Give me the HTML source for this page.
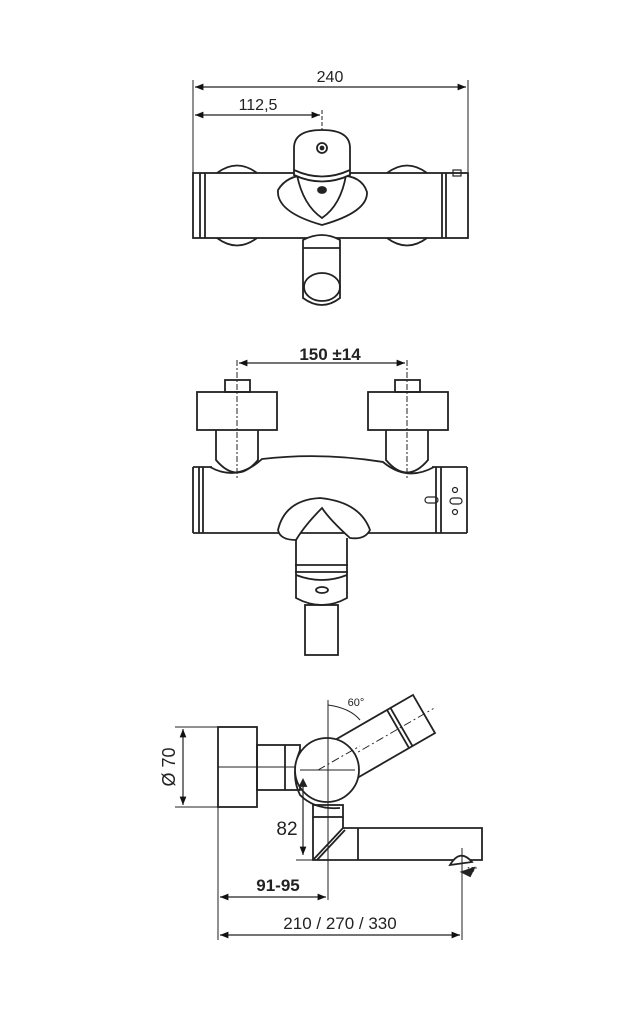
<!DOCTYPE html>
<html><head><meta charset="utf-8"><style>
html,body{margin:0;padding:0;background:#fff;}
svg{display:block;}
text{font-family:"Liberation Sans",sans-serif;fill:#222;}
</style></head><body>
<svg width="641" height="1024" viewBox="0 0 641 1024" xmlns="http://www.w3.org/2000/svg">
<defs>
<marker id="a" viewBox="0 0 10 10" refX="10" refY="5" markerWidth="9" markerHeight="7" orient="auto-start-reverse"><path d="M0,1 L10,5 L0,9 z" fill="#111"/></marker>
</defs>
<g stroke="#222" stroke-width="1.8" fill="none">
<!-- TOP VIEW -->
<line x1="193" y1="80" x2="193" y2="238" stroke-width="1"/>
<line x1="468" y1="80" x2="468" y2="172" stroke-width="1"/>
<line x1="195" y1="87" x2="466" y2="87" stroke-width="1.2" marker-start="url(#a)" marker-end="url(#a)"/>
<line x1="195" y1="115" x2="320" y2="115" stroke-width="1.2" marker-start="url(#a)" marker-end="url(#a)"/>
<line x1="322" y1="110" x2="322" y2="150" stroke-width="1" stroke-dasharray="4,2"/>
<path d="M217,173 Q237,158 257,173"/><path d="M387,173 Q407,158 427,173"/>
<path d="M217,238 Q237,253 257,238"/><path d="M387,238 Q407,253 427,238"/>
<rect x="193" y="173" width="275" height="65"/>
<line x1="200" y1="173" x2="200" y2="238"/><line x1="205" y1="173" x2="205" y2="238"/>
<line x1="442" y1="173" x2="442" y2="238"/><line x1="446" y1="173" x2="446" y2="238"/>
<rect x="453" y="170" width="8" height="6" stroke-width="1.2"/>
<path d="M278,190 Q290,170 322,177 Q360,170 367,192 Q368,212 322,225 Q276,212 278,190 z" fill="#fff"/>
<path d="M297,175 Q303,205 322,218 Q341,205 346,175"/>
<path d="M294,148 Q294,130 322,130 Q350,130 350,148 L350,175 Q322,188 294,175 z" fill="#fff"/>
<path d="M294,170 Q322,183 350,170"/>
<circle cx="322" cy="148" r="5"/><circle cx="322" cy="148" r="1.5" fill="#222"/>
<ellipse cx="322" cy="190" rx="4" ry="3" fill="#222"/>
<path d="M303,240 Q322,230 340,240 L340,298 Q322,312 303,298 z" fill="#fff"/>
<ellipse cx="322" cy="287" rx="18" ry="14"/>
<line x1="303" y1="248" x2="340" y2="248"/>
<!-- MIDDLE VIEW -->
<line x1="239" y1="363" x2="405" y2="363" stroke-width="1.2" marker-start="url(#a)" marker-end="url(#a)"/>
<line x1="237" y1="360" x2="237" y2="480" stroke-width="1" stroke-dasharray="6,2,2,2"/>
<line x1="407" y1="360" x2="407" y2="480" stroke-width="1" stroke-dasharray="6,2,2,2"/>
<rect x="225" y="380" width="25" height="12"/><rect x="395" y="380" width="25" height="12"/>
<rect x="197" y="392" width="80" height="38"/><rect x="368" y="392" width="80" height="38"/>
<path d="M216,430 L216,460 Q237,485 258,460 L258,430"/>
<path d="M386,430 L386,460 Q407,485 428,460 L428,430"/>
<path d="M210,467 Q237,482 262,459 Q322,452 383,462 Q407,482 434,467"/>
<line x1="193" y1="467" x2="212" y2="467"/>
<line x1="432" y1="467" x2="467" y2="467"/>
<line x1="467" y1="467" x2="467" y2="533"/>
<line x1="193" y1="533" x2="467" y2="533"/>
<line x1="193" y1="467" x2="193" y2="533"/>
<line x1="199" y1="467" x2="199" y2="533"/><line x1="203" y1="467" x2="203" y2="533"/>
<line x1="436" y1="467" x2="436" y2="533"/><line x1="441" y1="467" x2="441" y2="533"/>
<rect x="425" y="497" width="13" height="6" rx="3" stroke-width="1.2"/>
<circle cx="455" cy="490" r="2.5" stroke-width="1.2"/><circle cx="455" cy="512" r="2.5" stroke-width="1.2"/>
<rect x="450" y="498" width="12" height="6" rx="3" stroke-width="1.2"/>
<path d="M278,530 Q285,500 320,498 Q360,502 370,530 Q365,540 350,538 Q330,520 322,508 Q305,525 296,540 Q280,540 278,530 z" fill="#fff"/>
<path d="M296,540 L296,598 Q322,612 347,598 L347,538"/>
<line x1="295" y1="565" x2="348" y2="565"/><line x1="295" y1="572" x2="348" y2="572"/>
<path d="M296,575 Q322,585 347,575"/>
<ellipse cx="322" cy="590" rx="6" ry="3"/>
<rect x="305" y="605" width="33" height="50"/>
<!-- BOTTOM VIEW -->
<line x1="183" y1="729" x2="183" y2="805" stroke-width="1.2" marker-start="url(#a)" marker-end="url(#a)"/>
<line x1="175" y1="727" x2="218" y2="727" stroke-width="1"/><line x1="175" y1="807" x2="218" y2="807" stroke-width="1"/>
<rect x="218" y="727" width="39" height="80"/>
<line x1="218" y1="767" x2="330" y2="767" stroke-width="1"/>
<rect x="257" y="745" width="43" height="45"/>
<line x1="285" y1="745" x2="285" y2="790"/>
<g transform="rotate(-30 327 770)">
<rect x="327" y="748" width="112" height="44" fill="#fff"/>
<line x1="409" y1="748" x2="409" y2="792"/><line x1="413" y1="748" x2="413" y2="792"/>
<line x1="320" y1="770" x2="450" y2="770" stroke-width="1" stroke-dasharray="8,3,2,3"/>
</g>
<path d="M300,750 Q290,775 300,795 Q315,810 340,808" />
<circle cx="327" cy="770" r="32" fill="#fff"/>
<line x1="318" y1="770" x2="360" y2="746" stroke-width="1" stroke-dasharray="8,3,2,3"/>
<line x1="300" y1="770" x2="355" y2="770" stroke-width="1"/>
<line x1="328" y1="700" x2="328" y2="900" stroke-width="1"/>
<path d="M328,705 Q350,708 360,720" stroke-width="1"/>
<path d="M303,780 L306,786 L300,786 z" fill="#222"/>
<line x1="303" y1="786" x2="303" y2="855" stroke-width="1.2" marker-end="url(#a)"/>
<line x1="296" y1="860" x2="313" y2="860" stroke-width="1"/>
<rect x="313" y="805" width="30" height="12"/>
<path d="M313,817 L313,860 L482,860 L482,828 L343,828 L343,817"/>
<line x1="313" y1="860" x2="343" y2="828"/><line x1="317" y1="860" x2="345" y2="830"/>
<line x1="358" y1="828" x2="358" y2="860"/>
<path d="M450,865 Q460,848 472,862 z" fill="#fff"/>
<path d="M462,872 L474,868 L470,876 z" fill="#222"/>
<line x1="462" y1="848" x2="462" y2="940" stroke-width="1"/>
<line x1="218" y1="807" x2="218" y2="940" stroke-width="1"/>
<line x1="220" y1="897" x2="326" y2="897" stroke-width="1.2" marker-start="url(#a)" marker-end="url(#a)"/>
<line x1="220" y1="935" x2="460" y2="935" stroke-width="1.2" marker-start="url(#a)" marker-end="url(#a)"/>
</g>
<text x="330" y="82" font-size="16" text-anchor="middle">240</text>
<text x="258" y="110" font-size="16" text-anchor="middle">112,5</text>
<text x="330" y="360" font-size="17" font-weight="bold" text-anchor="middle">150 ±14</text>
<text x="170" y="767" font-size="18" text-anchor="middle" transform="rotate(-90 170 767)" dominant-baseline="middle">Ø 70</text>
<text x="356" y="706" font-size="11" text-anchor="middle">60°</text>
<text x="287" y="835" font-size="19" text-anchor="middle">82</text>
<text x="278" y="891" font-size="17" font-weight="bold" text-anchor="middle">91-95</text>
<text x="340" y="929" font-size="17" text-anchor="middle">210 / 270 / 330</text>
<text x="472" y="872" font-size="7" text-anchor="middle">10°</text>
</svg>
</body></html>
